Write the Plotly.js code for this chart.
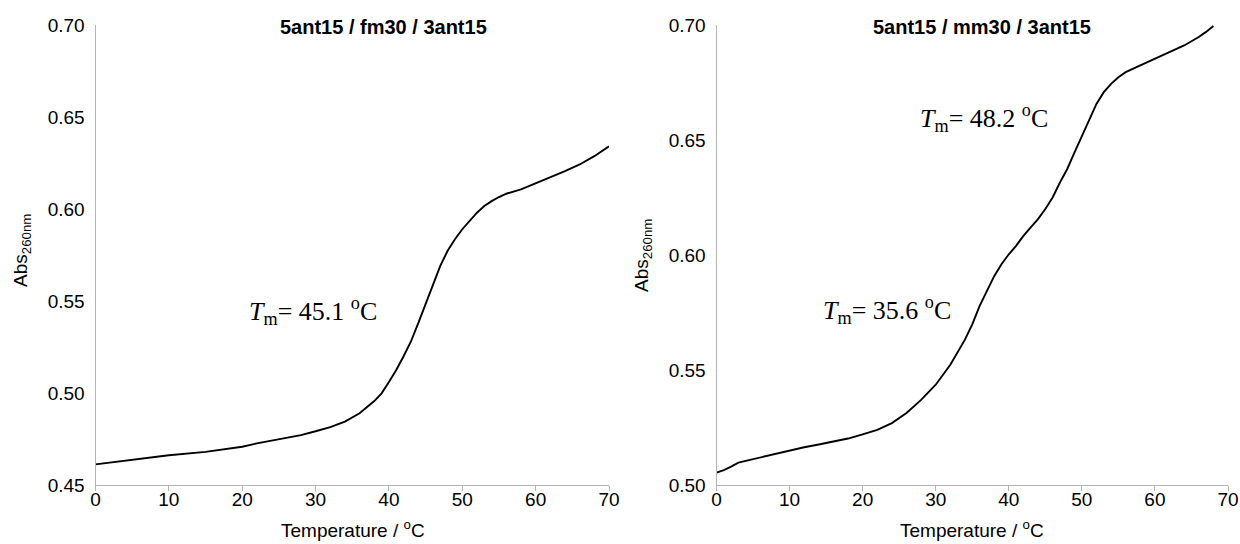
<!DOCTYPE html>
<html>
<head>
<meta charset="utf-8">
<script src="https://cdn.plot.ly/plotly-3.0.1.min.js"></script>
<style>html,body{margin:0;padding:0;background:#fff;}#chart{width:1240px;height:544px;}</style>
</head>
<body>
<div id="chart"></div>
<script>
// Left panel: 5ant15 / fm30 / 3ant15
const tempLeft = [0,5,10,15,20,22,25,28,30,32,34,36,38,39,40,41,42,43,44,45,46,47,48,49,50,51,52,53,54,55,56,58,60,62,64,66,68,70];
const absLeft  = [0.4612,0.4639,0.4662,0.4680,0.4708,0.4726,0.4747,0.4771,0.4792,0.4815,0.4845,0.4890,0.4956,0.4998,0.5060,0.5125,0.5200,0.5280,0.5380,0.5484,0.5592,0.5691,0.5773,0.5836,0.5890,0.5935,0.5980,0.6016,0.6043,0.6065,0.6083,0.6107,0.6140,0.6170,0.6206,0.6242,0.6287,0.6341];

// Right panel: 5ant15 / mm30 / 3ant15
const tempRight = [0,1,2,3,4,6,8,10,12,14,16,18,20,22,24,26,28,30,32,34,35,36,37,38,39,40,41,42,43,44,45,46,47,48,49,50,51,52,53,54,55,56,58,60,62,64,66,67,68];
const absRight  = [0.5054,0.5065,0.5080,0.5097,0.5105,0.5120,0.5135,0.5151,0.5164,0.5176,0.5188,0.5202,0.5220,0.5240,0.5269,0.5313,0.5370,0.5436,0.5523,0.5632,0.5698,0.5778,0.5843,0.5908,0.5960,0.6003,0.6040,0.6083,0.6120,0.6156,0.6200,0.6250,0.6315,0.6374,0.6446,0.6519,0.6592,0.6657,0.6708,0.6744,0.6773,0.6795,0.6824,0.6853,0.6882,0.6911,0.6948,0.6970,0.6996];

const xTicks = [0,10,20,30,40,50,60,70];
const yTicksLeft = [0.45,0.50,0.55,0.60,0.65,0.70];
const yTicksRight = [0.50,0.55,0.60,0.65,0.70];

const titles = ['5ant15 / fm30 / 3ant15', '5ant15 / mm30 / 3ant15'];
const xTitle = 'Temperature / <sup>o</sup>C';
const yTitle = 'Abs<sub>260nm</sub>';
const tmLabels = [
  {ax:'1', x:29.7, y:0.5448, t:45.1},
  {ax:'2', x:36.6, y:0.6594, t:48.2},
  {ax:'2', x:23.4, y:0.5763, t:35.6}
];

const W = 1240, H = 544;
const dom = {
  x1:[95.5/W, 609/W],
  x2:[716.5/W, 1228/W],
  y:[1-485/H, 1-25/H]
};

const lineStyle = {color:'#000', width:1.9};
const traces = [
  {x:tempLeft, y:absLeft, type:'scatter', mode:'lines', line:lineStyle, xaxis:'x', yaxis:'y', hoverinfo:'skip'},
  {x:tempRight, y:absRight, type:'scatter', mode:'lines', line:lineStyle, xaxis:'x2', yaxis:'y2', hoverinfo:'skip'}
];

const tickFont = {family:'Liberation Sans, Arial, sans-serif', size:19, color:'#000'};
function xAxis(domain, anchor){
  return {domain:domain, anchor:anchor, range:[0,70], tickvals:xTicks, ticktext:xTicks.map(String),
    showline:true, linecolor:'#b4b4b4', linewidth:1, ticks:'outside', ticklen:5, tickcolor:'#b4b4b4', tickwidth:1,
    ticklabelstandoff:-8,
    showgrid:false, zeroline:false, tickfont:tickFont, fixedrange:true};
}
function yAxis(range, vals, anchor){
  return {domain:dom.y, anchor:anchor, range:range, tickvals:vals, ticktext:vals.map(v=>v.toFixed(2)),
    showline:true, linecolor:'#b4b4b4', linewidth:1, ticks:'', ticklabelstandoff:6,
    showgrid:false, zeroline:false, tickfont:tickFont, fixedrange:true};
}

const annFont = {family:'Liberation Serif, Times New Roman, serif', size:26, color:'#000'};
const annotations = [];
const titleFont = {family:'Liberation Sans, Arial, sans-serif', size:20, color:'#000'};
annotations.push({xref:'paper', yref:'paper', x:383/W, y:1-27/H, text:'<b>'+titles[0]+'</b>', showarrow:false, font:titleFont, xanchor:'center', yanchor:'middle'});
annotations.push({xref:'paper', yref:'paper', x:982/W, y:1-27/H, text:'<b>'+titles[1]+'</b>', showarrow:false, font:titleFont, xanchor:'center', yanchor:'middle'});
const axTitleFont = {family:'Liberation Sans, Arial, sans-serif', size:19, color:'#000'};
annotations.push({xref:'paper', yref:'paper', x:(96+609)/2/W, y:1-529/H, text:xTitle, showarrow:false, font:axTitleFont, xanchor:'center', yanchor:'middle'});
annotations.push({xref:'paper', yref:'paper', x:(716+1228)/2/W, y:1-529/H, text:xTitle, showarrow:false, font:axTitleFont, xanchor:'center', yanchor:'middle'});
annotations.push({xref:'paper', yref:'paper', x:22/W, y:1-251/H, text:yTitle, textangle:-90, showarrow:false, font:axTitleFont, xanchor:'center', yanchor:'middle'});
annotations.push({xref:'paper', yref:'paper', x:643/W, y:1-256/H, text:yTitle, textangle:-90, showarrow:false, font:axTitleFont, xanchor:'center', yanchor:'middle'});
tmLabels.forEach(l=>{
  annotations.push({xref:'x'+(l.ax==='1'?'':l.ax), yref:'y'+(l.ax==='1'?'':l.ax), x:l.x, y:l.y,
    text:'<i>T</i><sub>m</sub>= '+l.t.toFixed(1)+' <sup>o</sup>C', showarrow:false, font:annFont, xanchor:'center', yanchor:'middle'});
});

const layout = {
  width:W, height:H,
  margin:{l:0, r:0, t:0, b:0, pad:0},
  paper_bgcolor:'#fff', plot_bgcolor:'#fff',
  showlegend:false,
  xaxis:xAxis(dom.x1,'y'),
  yaxis:yAxis([0.45,0.70], yTicksLeft, 'x'),
  xaxis2:xAxis(dom.x2,'y2'),
  yaxis2:yAxis([0.50,0.70], yTicksRight, 'x2'),
  annotations:annotations
};
Plotly.newPlot('chart', traces, layout, {displayModeBar:false, staticPlot:true});
</script>
</body>
</html>
